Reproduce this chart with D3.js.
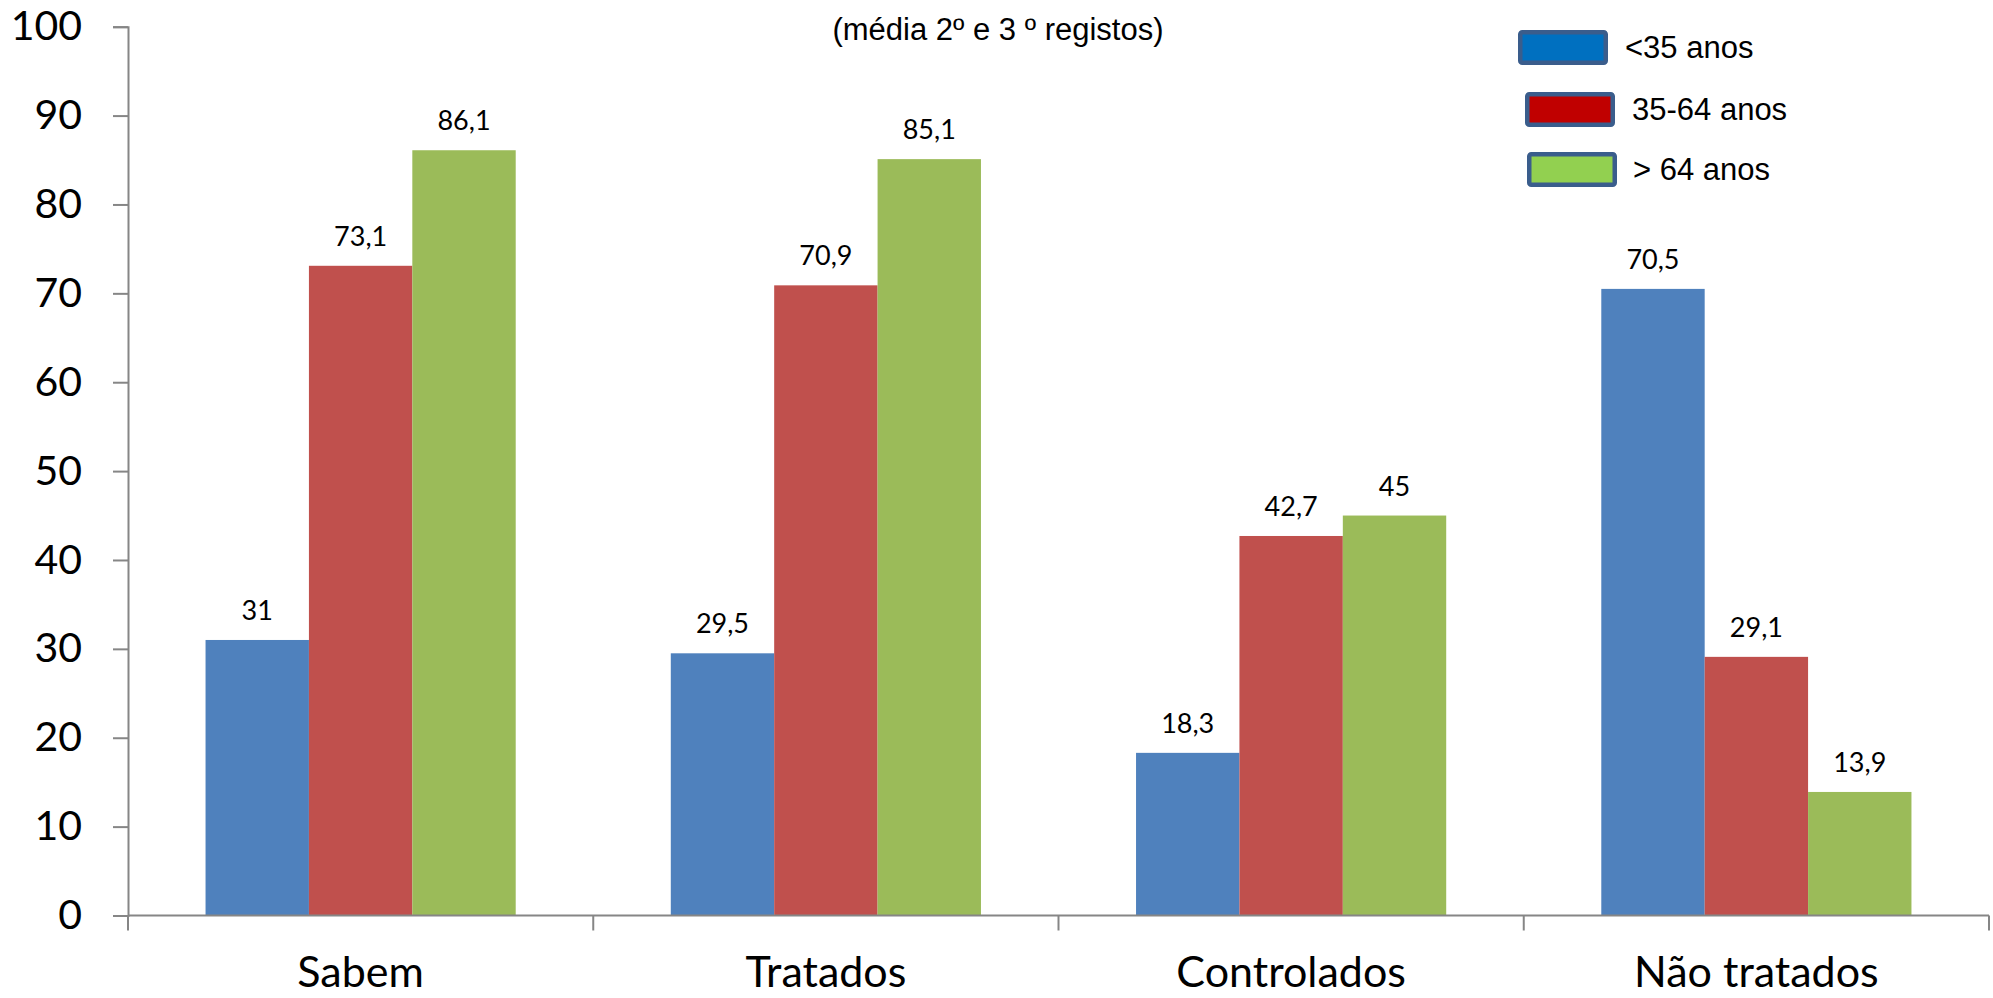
<!DOCTYPE html>
<html>
<head>
<meta charset="utf-8">
<script src="https://cdn.jsdelivr.net/npm/d3@7"></script>
<style>
  html, body { margin: 0; padding: 0; background: #ffffff; }
  svg { display: block; }
</style>
</head>
<body>
<svg id="chart" width="1993" height="998"></svg>
<script>
// Categories and age-group series (percent)
const categories = ["Sabem", "Tratados", "Controlados", "Não tratados"];
const seriesNames = ["<35 anos", "35-64 anos", "> 64 anos"];
const under35 = [31, 29.5, 18.3, 70.5];
const age35to64 = [73.1, 70.9, 42.7, 29.1];
const over64 = [86.1, 85.1, 45, 13.9];
const yTicks = [0, 10, 20, 30, 40, 50, 60, 70, 80, 90, 100];
const subtitle = "(média 2º e 3 º registos)";

const barColors = ["#4F81BD", "#C0504D", "#9BBB59"];
const legendColors = ["#0070C0", "#C00000", "#92D050"];

const seriesValues = [under35, age35to64, over64];
const rows = categories.map((c, i) => ({
  category: c,
  values: seriesNames.map((s, j) => ({ series: s, idx: j, value: seriesValues[j][i] }))
}));

const svg = d3.select("#chart");
const plotLeft = 128, plotRight = 1989, plotTop = 26.7, plotBottom = 915.5;

const x = d3.scaleBand().domain(categories).range([plotLeft, plotRight]).padding(0);
const bw = x.bandwidth();
const x1 = d3.scaleBand().domain(seriesNames).range([bw / 6, bw * 5 / 6]).padding(0);
const y = d3.scaleLinear().domain([0, 100]).range([plotBottom, plotTop]);

const axisColor = "#868686";
const tickFont = "Lato, 'Open Sans', sans-serif";

// Bars
const groups = svg.append("g").selectAll("g")
  .data(rows).join("g")
  .attr("transform", d => `translate(${x(d.category)},0)`);

groups.selectAll("rect")
  .data(d => d.values).join("rect")
  .attr("x", d => x1(d.series))
  .attr("y", d => y(d.value))
  .attr("width", x1.bandwidth())
  .attr("height", d => y(0) - y(d.value))
  .attr("fill", d => barColors[d.idx]);

// Value labels above bars
groups.selectAll("text")
  .data(d => d.values).join("text")
  .attr("x", d => x1(d.series) + x1.bandwidth() / 2)
  .attr("y", d => y(d.value) - 20)
  .attr("text-anchor", "middle")
  .attr("font-family", tickFont)
  .attr("font-size", 27)
  .attr("fill", "#000")
  .text(d => String(d.value).replace(".", ","));

// Y axis
const yAxis = svg.append("g")
  .attr("transform", `translate(${plotLeft},0)`)
  .call(d3.axisLeft(y).tickValues(yTicks).tickSize(15).tickPadding(31).tickFormat(d3.format("d")));
yAxis.select(".domain").attr("stroke", axisColor).attr("stroke-width", 2);
yAxis.selectAll(".tick line").attr("stroke", axisColor).attr("stroke-width", 2);
yAxis.selectAll(".tick text")
  .attr("font-family", tickFont)
  .attr("font-size", 41)
  .attr("fill", "#000");

// X axis line with category boundary ticks
const xAxis = svg.append("g");
xAxis.append("line")
  .attr("x1", plotLeft).attr("x2", plotRight)
  .attr("y1", y(0)).attr("y2", y(0))
  .attr("stroke", axisColor).attr("stroke-width", 2);
const bounds = categories.map(c => x(c)).concat([x(categories[categories.length - 1]) + bw]);
xAxis.selectAll("line.bound")
  .data(bounds).join("line")
  .attr("class", "bound")
  .attr("x1", d => d).attr("x2", d => d)
  .attr("y1", y(0)).attr("y2", y(0) + 15)
  .attr("stroke", axisColor).attr("stroke-width", 2);
xAxis.selectAll("text")
  .data(categories).join("text")
  .attr("x", d => x(d) + bw / 2)
  .attr("y", 987)
  .attr("text-anchor", "middle")
  .attr("font-family", tickFont)
  .attr("font-size", 43)
  .attr("fill", "#000")
  .text(d => d);

// Subtitle
svg.append("text")
  .attr("x", 998).attr("y", 40)
  .attr("text-anchor", "middle")
  .attr("font-family", "'Liberation Sans', Arial, sans-serif")
  .attr("font-size", 31)
  .attr("fill", "#000")
  .text(subtitle);

// Legend
const legendItems = [
  { name: seriesNames[0], bx: 1518, by: 30, tx: 1625, ty: 58 },
  { name: seriesNames[1], bx: 1525, by: 92, tx: 1632, ty: 120 },
  { name: seriesNames[2], bx: 1527, by: 152, tx: 1633, ty: 180 }
];
const legend = svg.append("g");
legendItems.forEach((it, i) => {
  legend.append("rect")
    .attr("x", it.bx + 2.25).attr("y", it.by + 2.25)
    .attr("width", 85.5).attr("height", 30.5)
    .attr("rx", 2)
    .attr("fill", legendColors[i])
    .attr("stroke", "#3A5D8C")
    .attr("stroke-width", 4.5);
  legend.append("text")
    .attr("x", it.tx).attr("y", it.ty)
    .attr("font-family", "'Liberation Sans', Arial, sans-serif")
    .attr("font-size", 31)
    .attr("fill", "#000")
    .text(it.name);
});
</script>
</body>
</html>
